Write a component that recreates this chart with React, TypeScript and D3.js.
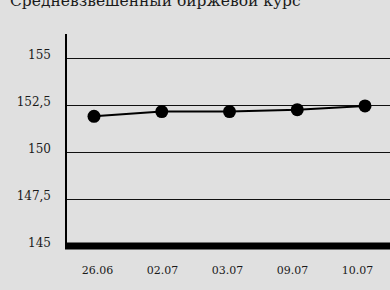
import * as d3 from 'd3';
import React from 'react';

// Средневзвешенный биржевой курс
const dates = ['26.06', '02.07', '03.07', '09.07', '10.07'];
const rates = [151.9, 152.15, 152.15, 152.25, 152.45];
const yTicks = [145, 147.5, 150, 152.5, 155];

const W = 390;
const H = 290;
const FONT = '"DejaVu Serif", serif';

export default function App() {
  const margin = { top: 34, right: 0, bottom: 44, left: 66 };

  const y = d3.scaleLinear().domain([145, 155]).range([246, 58]);

  // labels sit in equal bands across the plot, points are spread a bit wider
  const xBand = d3.scaleBand<string>().domain(dates).range([margin.left - 1, W]);
  const xPoint = d3.scalePoint<string>().domain(dates).range([94, 365]);

  const line = d3
    .line<number>()
    .x((_, i) => xPoint(dates[i]) ?? 0)
    .y(d => y(d));

  const fmt = (v: number) => String(v).replace('.', ',');

  return (
    <svg
      width={W}
      height={H}
      style={{ position: 'fixed', left: 0, top: 0, background: '#e0e0e0' }}
    >
      <text x={10} y={6} fontFamily={FONT} fontSize={15.5} fill="#1a1a1a">
        Средневзвешенный биржевой курс
      </text>

      {/* grid */}
      {yTicks.slice(1).map(t => (
        <line
          key={t}
          x1={margin.left}
          x2={W}
          y1={Math.round(y(t)) + 0.5}
          y2={Math.round(y(t)) + 0.5}
          stroke="#111"
          strokeWidth={1}
        />
      ))}

      {/* y labels */}
      {yTicks.map(t => (
        <text
          key={t}
          x={51}
          y={y(t) + 1}
          textAnchor="end"
          fontFamily={FONT}
          fontSize={12}
          fill="#1a1a1a"
        >
          {fmt(t)}
        </text>
      ))}

      {/* axes */}
      <line x1={66} x2={66} y1={margin.top} y2={y(145)} stroke="#000" strokeWidth={2} />
      <line x1={65} x2={W} y1={y(145)} y2={y(145)} stroke="#000" strokeWidth={7} />

      {/* x labels */}
      {dates.map(d => (
        <text
          key={d}
          x={(xBand(d) ?? 0) + xBand.bandwidth() / 2}
          y={274}
          textAnchor="middle"
          fontFamily={FONT}
          fontSize={11}
          fill="#1a1a1a"
        >
          {d}
        </text>
      ))}

      {/* series */}
      <path d={line(rates) ?? ''} fill="none" stroke="#000" strokeWidth={2} />
      {rates.map((v, i) => (
        <circle key={i} cx={xPoint(dates[i])} cy={y(v)} r={6.5} fill="#000" />
      ))}
    </svg>
  );
}
